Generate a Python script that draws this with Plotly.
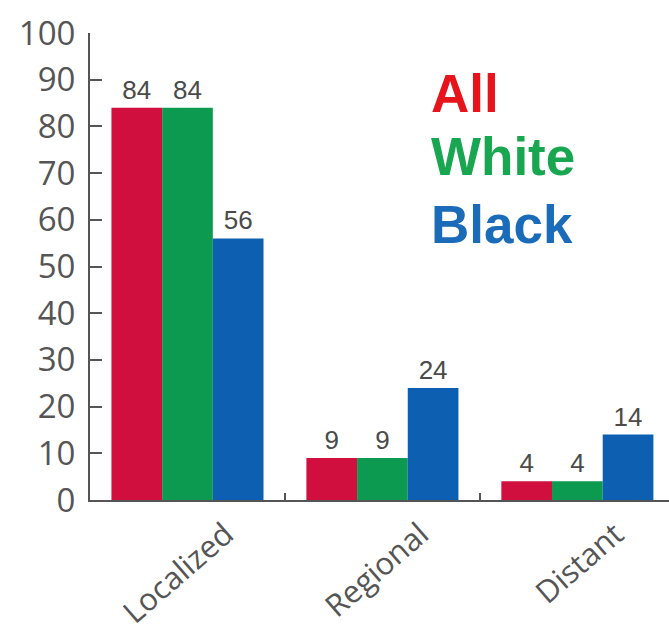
import plotly.graph_objects as go

categories = ["Localized", "Regional", "Distant"]
series_names = ["All", "White", "Black"]
all_vals = [84, 9, 4]
white_vals = [84, 9, 4]
black_vals = [56, 24, 14]
y_ticks = [0, 10, 20, 30, 40, 50, 60, 70, 80, 90, 100]

bar_colors = ["#d10f3f", "#0b9a4f", "#0d5fb1"]
legend_colors = ["#e8141c", "#19a651", "#1b6cb8"]

fig = go.Figure()
for name, vals, col in zip(series_names, [all_vals, white_vals, black_vals], bar_colors):
    fig.add_trace(go.Bar(
        x=categories, y=vals, name=name, marker_color=col, marker_line_width=0,
        text=[str(v) for v in vals], textposition="outside", cliponaxis=False,
        textfont=dict(family="Liberation Sans Narrow, Liberation Sans, Arial", size=26, color="#4a4a4a"),
    ))

legend_y = [0.8715, 0.7355, 0.589]
for name, col, yy in zip(series_names, legend_colors, legend_y):
    fig.add_annotation(
        x=0.585, y=yy, xref="paper", yref="paper", xanchor="left", yanchor="middle",
        text="<b>%s</b>" % name, showarrow=False,
        font=dict(family="Liberation Sans, Arial", size=53, color=col),
    )

fig.add_shape(type="rect", xref="paper", yref="paper", x0=0.812, x1=1.05, y0=-0.32, y1=-0.24,
              fillcolor="white", line_width=0, layer="above")

fig.update_layout(
    width=669, height=644,
    margin=dict(l=90, r=0, t=33, b=144),
    paper_bgcolor="white", plot_bgcolor="white",
    barmode="group", bargap=0.22, bargroupgap=0,
    showlegend=False,
    xaxis=dict(
        range=[-0.5, 2.47], showline=True, linecolor="#555", linewidth=2,
        tickson="boundaries", ticks="inside", ticklen=7, tickcolor="#555", tickwidth=2,
        tickangle=-41, ticklabelshift=38, ticklabelstandoff=2, automargin=False,
        tickfont=dict(family="Open Sans, Arial", size=31, color="#555"),
        showgrid=False, zeroline=False,
    ),
    yaxis=dict(
        range=[0, 100], tickvals=y_ticks, showline=True, linecolor="#555", linewidth=2,
        ticks="inside", ticklen=12, tickcolor="#555", tickwidth=2, automargin=False,
        tickfont=dict(family="Open Sans, Arial", size=33, color="#555"),
        showgrid=False, zeroline=False, ticklabelstandoff=6,
    ),
)

fig.write_html("out.html")
